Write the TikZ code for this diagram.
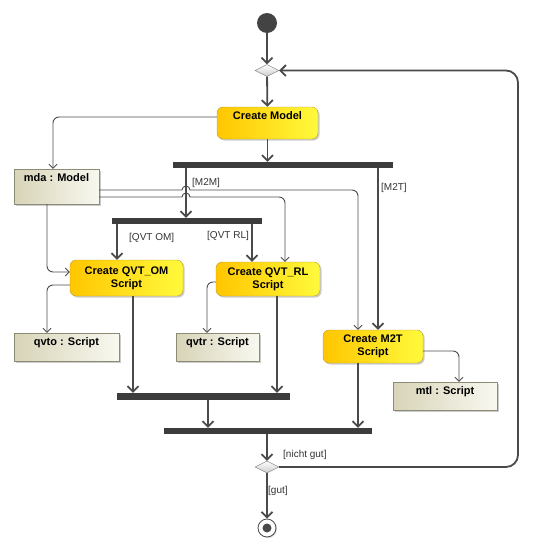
\documentclass[tikz,border=0pt]{standalone}
\usepackage{fontspec}
\setmainfont{Liberation Sans}
\usetikzlibrary{arrows.meta,shapes.geometric,shadows}

\definecolor{flowgray}{HTML}{4A4A4A}
\definecolor{bargray}{HTML}{3C3C3C}
\definecolor{actleft}{HTML}{FFC600}
\definecolor{actright}{HTML}{FFFA3C}
\definecolor{actborder}{HTML}{B89A2C}
\definecolor{objleft}{HTML}{D8D4B8}
\definecolor{objright}{HTML}{F8F8F0}
\definecolor{objborder}{HTML}{8C8C74}

\begin{document}
\begin{tikzpicture}[x=1pt,y=-1pt]
    \tikzset{action/.style = {rectangle, rounded corners=6pt, draw=actborder, left color=actleft, right color=actright,
        font=\bfseries\fontsize{11}{13}\selectfont, align=center, inner sep=0pt,
        drop shadow={shadow xshift=1.5pt, shadow yshift=-1.5pt, fill=black!40}}}
    \tikzset{object/.style = {rectangle, draw=objborder, left color=objleft, right color=objright,
        font=\bfseries\fontsize{11}{13}\selectfont, inner sep=0pt, minimum height=28pt, text depth=11pt,
        drop shadow={shadow xshift=1.5pt, shadow yshift=-1.5pt, fill=black!40}}}
    \tikzset{bar/.style = {rectangle, fill=bargray, inner sep=0pt, minimum height=6pt}}
    \tikzset{decision/.style = {diamond, shape aspect=2, minimum width=24pt, minimum height=12pt, inner sep=0pt,
        draw=gray, top color=white, bottom color=gray!40}}
    \tikzset{initial/.style = {circle, fill=flowgray!90!black, minimum size=20pt, inner sep=0pt}}
    \tikzset{final/.style = {circle, draw=flowgray, line width=0.8pt, fill=white, minimum size=18pt, inner sep=0pt,
        drop shadow={shadow xshift=1pt, shadow yshift=-1pt, fill=black!30},
        path picture={\fill[flowgray] (path picture bounding box.center) circle (4.5pt);}}}
    \tikzset{flow/.style = {draw=flowgray, line width=1.8pt, -{Straight Barb[length=5.5pt,width=11pt]}}}
    \tikzset{oflow/.style = {draw=black!70, line width=0.9pt, -{Straight Barb[length=4pt,width=8pt]}}}
    \tikzset{guard/.style = {font=\fontsize{10}{12}\selectfont, text=black!80, inner sep=0pt, anchor=west}}
    \useasboundingbox (0,0) rectangle (534,552);
    % vertices
    \node[initial] (start) at (267,23) {};
    \node[decision] (dtop) at (267,70.5) {};
    \node[action, minimum width=101pt, minimum height=32pt, text depth=14pt] (model) at (267.5,123) {Create Model};
    \node[bar, minimum width=220pt] (fork1) at (283,165) {};
    \node[object, minimum width=85pt, minimum height=35pt, text depth=17pt] (mda) at (56.5,186.5) {mda : Model};
    \node[bar, minimum width=150pt] (fork2) at (187,221) {};
    \node[action, minimum width=113pt, minimum height=36pt] (qvtom) at (126.5,278) {Create QVT\_OM\\Script};
    \node[action, minimum width=104pt, minimum height=34pt] (qvtrl) at (268,279) {Create QVT\_RL\\Script};
    \node[action, minimum width=100pt, minimum height=33pt] (m2t) at (373,346.5) {Create M2T\\Script};
    \node[object, minimum width=105pt] (qvto) at (66.5,347) {qvto : Script};
    \node[object, minimum width=83pt] (qvtr) at (217.5,347) {qvtr : Script};
    \node[object, minimum width=104pt] (mtl) at (445,396) {mtl : Script};
    \node[bar, minimum width=173pt, minimum height=7pt] (join1) at (203.5,396.5) {};
    \node[bar, minimum width=208pt] (join2) at (268,431) {};
    \node[decision] (dbot) at (267,467) {};
    \node[final] (end) at (267,528) {};
    \coordinate (loop) at (518,0);
    % guards
    \node[guard] (gm2m) at (192,183) {[M2M]};
    \node[guard] (gm2t) at (381,188) {[M2T]};
    \node[guard] (gqvtom) at (129,238) {[QVT OM]};
    \node[guard] (gqvtrl) at (207,236) {[QVT RL]};
    \node[guard] (gnot) at (283,455) {[nicht gut]};
    \node[guard] (ggut) at (268,491) {[gut]};
    % control flow
    \draw[flow] (start) -- (dtop);
    \draw[flow] (dtop) -- (model);
    \draw[flow] (model.south) -- (model.south |- fork1.north);
    \draw[flow] (fork1.south -| 186,0) -- (fork2.north -| 186,0);
    \draw[flow] (fork1.south -| 378,0) -- (m2t.north -| 378,0);
    \draw[flow] (fork2.south -| 117,0) -- (qvtom.north -| 117,0);
    \draw[flow] (fork2.south -| 252,0) -- (qvtrl.north -| 252,0);
    \draw[flow] (qvtom.south -| 133,0) -- (join1.north -| 133,0);
    \draw[flow] (qvtrl.south -| 277,0) -- (join1.north -| 277,0);
    \draw[flow] (join1.south -| 208,0) -- (join2.north -| 208,0);
    \draw[flow] (m2t.south -| 358,0) -- (join2.north -| 358,0);
    \draw[flow] (join2.south -| 267,0) -- (dbot);
    \draw[flow, rounded corners=12pt] (dbot.east) -- (dbot.east -| loop) -- (dtop.east -| loop) -- (dtop.east);
    \draw[flow] (dbot) -- (end);
    % object flow
    \draw[oflow, rounded corners=6pt] ([yshift=6pt]model.west) -| ([xshift=-3.5pt]mda.north);
    \draw[oflow] ([yshift=-3.5pt]mda.east) -- (182,190) arc[start angle=180, end angle=0, radius=4pt]
        [rounded corners=6pt] -- (358,190) -- (m2t.north -| 358,0);
    \draw[oflow] ([yshift=-10.5pt]mda.east) -- (182,197) arc[start angle=180, end angle=0, radius=4pt]
        [rounded corners=6pt] -- (285,197) -- (qvtrl.north -| 285,0);
    \draw[oflow, rounded corners=6pt] ([xshift=-9.5pt]mda.south) |- ([yshift=6pt]qvtom.west);
    \draw[oflow, rounded corners=6pt] ([yshift=-7pt]qvtom.west) -| ([xshift=-19.5pt]qvto.north);
    \draw[oflow, rounded corners=6pt] ([yshift=-3pt]qvtrl.west) -| ([xshift=-10.5pt]qvtr.north);
    \draw[oflow, rounded corners=6pt] ([yshift=-4.5pt]m2t.east) -| ([xshift=14pt]mtl.north);
\end{tikzpicture}
\end{document}
